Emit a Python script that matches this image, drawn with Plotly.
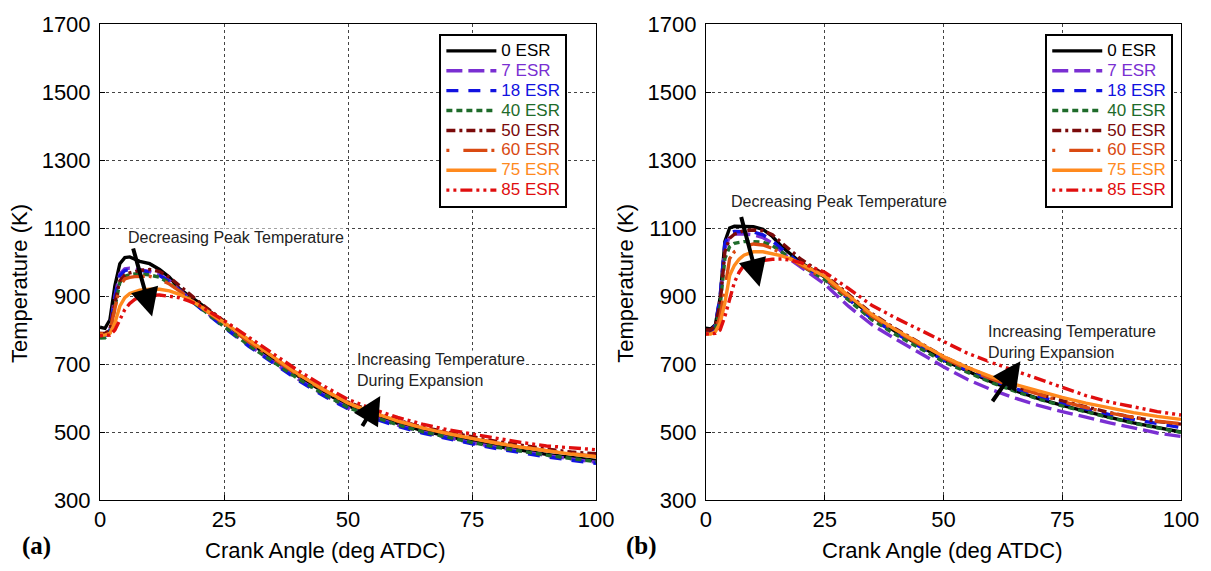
import plotly.graph_objects as go

# ---------------- data ----------------
crank_angle = [0, 1, 2, 3, 4, 5, 6, 7, 8, 10, 12, 14, 16, 18, 20, 25, 30, 35, 40, 45,
               50, 55, 60, 65, 70, 75, 80, 85, 90, 95, 100]

series_names = ["0 ESR", "7 ESR", "18 ESR", "40 ESR", "50 ESR", "60 ESR", "75 ESR", "85 ESR"]

# panel (a)
a_esr0 = [808, 805, 830, 930, 995, 1013, 1015, 1008, 1002, 995, 978, 955, 922, 900, 880, 822, 765, 713, 664, 619,
          577, 549, 525, 504, 487, 472, 458, 445, 434, 425, 416]
a_esr7 = [782, 782, 800, 900, 965, 980, 982, 980, 978, 972, 962, 945, 918, 893, 868, 810, 755, 705, 655, 610,
          571, 544, 520, 500, 483, 468, 455, 442, 431, 421, 411]
a_esr18 = [783, 783, 800, 895, 960, 975, 978, 977, 976, 970, 960, 942, 916, 891, 866, 808, 752, 702, 652, 607,
           568, 541, 517, 497, 480, 465, 451, 438, 427, 417, 408]
a_esr40 = [776, 777, 792, 870, 940, 958, 963, 965, 965, 962, 955, 938, 915, 890, 866, 810, 755, 705, 656, 612,
           572, 545, 521, 501, 484, 469, 455, 443, 432, 422, 413]
a_esr50 = [790, 790, 800, 880, 945, 962, 968, 972, 975, 978, 972, 955, 930, 905, 882, 826, 770, 720, 670, 626,
           588, 560, 535, 514, 499, 486, 472, 460, 450, 441, 436]
a_esr60 = [790, 789, 795, 860, 930, 950, 955, 957, 958, 958, 950, 935, 915, 893, 870, 818, 765, 716, 667, 624,
           584, 556, 532, 512, 496, 482, 468, 456, 445, 436, 429]
a_esr75 = [785, 785, 790, 820, 870, 895, 907, 913, 917, 920, 920, 915, 905, 890, 872, 822, 770, 720, 670, 626,
           585, 557, 533, 512, 495, 480, 467, 455, 444, 435, 427]
a_esr85 = [783, 783, 785, 800, 830, 860, 878, 890, 897, 902, 903, 900, 895, 885, 872, 828, 778, 730, 680, 636,
           596, 567, 543, 523, 507, 494, 481, 469, 459, 453, 448]

# panel (b)
b_esr0 = [805, 803, 815, 895, 1060, 1100, 1105, 1105, 1105, 1104, 1096, 1075, 1045, 1020, 998, 956, 898, 840, 795, 755,
          712, 680, 648, 622, 598, 578, 560, 543, 527, 513, 500]
b_esr7 = [790, 790, 810, 890, 1040, 1075, 1082, 1083, 1083, 1080, 1072, 1055, 1030, 1005, 985, 935, 870, 815, 773, 732,
          692, 655, 625, 600, 578, 560, 543, 527, 512, 497, 487]
b_esr18 = [795, 795, 815, 900, 1055, 1085, 1090, 1090, 1090, 1088, 1080, 1062, 1038, 1015, 993, 950, 890, 832, 790, 750,
           712, 682, 653, 628, 605, 585, 567, 551, 537, 524, 513]
b_esr40 = [790, 790, 805, 870, 1010, 1045, 1055, 1058, 1060, 1060, 1058, 1048, 1030, 1010, 990, 948, 888, 830, 786, 746,
           707, 676, 646, 620, 597, 577, 559, 542, 526, 512, 499]
b_esr50 = [800, 800, 812, 880, 1030, 1070, 1082, 1088, 1092, 1094, 1092, 1080, 1055, 1030, 1008, 962, 905, 848, 803, 762,
           722, 690, 660, 634, 612, 592, 574, 557, 543, 531, 523]
b_esr60 = [790, 790, 800, 840, 920, 1010, 1030, 1038, 1045, 1053, 1050, 1040, 1025, 1008, 990, 952, 896, 840, 797, 757,
           718, 685, 657, 632, 610, 590, 572, 556, 543, 532, 524]
b_esr75 = [788, 788, 795, 820, 880, 960, 990, 1008, 1020, 1030, 1030, 1025, 1018, 1008, 995, 958, 900, 845, 800, 760,
           722, 690, 663, 640, 620, 602, 585, 570, 557, 546, 537]
b_esr85 = [788, 788, 790, 800, 840, 890, 940, 970, 990, 1000, 1005, 1008, 1009, 1005, 998, 970, 922, 872, 835, 800,
           765, 732, 705, 680, 655, 630, 607, 588, 573, 560, 550]

x_ticks = [0, 25, 50, 75, 100]
y_ticks = [300, 500, 700, 900, 1100, 1300, 1500, 1700]

# ---------------- styles ----------------
colors = ["#000000", "#7A2FD2", "#1212E0", "#1E6B2A", "#7A0A0A", "#D94A12", "#FF8A1E", "#E00E0E"]
dashes = ["solid", "16px,6px", "12px,10px", "6px,4px", "9px,4px,3px,4px", "3px,14px,24px,4px", "solid",
          "3px,4px,3px,4px,12px,4px"]

panel_a = [a_esr0, a_esr7, a_esr18, a_esr40, a_esr50, a_esr60, a_esr75, a_esr85]
panel_b = [b_esr0, b_esr7, b_esr18, b_esr40, b_esr50, b_esr60, b_esr75, b_esr85]

fig = go.Figure()

for panel, xa, ya, leg in [(panel_a, "x", "y", "legend"), (panel_b, "x2", "y2", "legend2")]:
    for i, (name, vals) in enumerate(zip(series_names, panel)):
        fig.add_trace(go.Scatter(
            x=crank_angle, y=vals, mode="lines",
            name=f"<span style='color:{colors[i]};font-size:17px'>{name}</span>",
            line=dict(color=colors[i], width=3.4, dash=dashes[i]),
            xaxis=xa, yaxis=ya, legend=leg, legendrank=i + 1,
        ))

W, H = 1211, 571
ml, mr, mt, mb = 100, 28, 20, 71
pw = W - ml - mr
ph = H - mt - mb


def px(x):
    return (x - ml) / pw


def py(y):
    return (H - mb - y) / ph


axis_common = dict(
    showline=True, linecolor="black", linewidth=1, mirror=True,
    showgrid=True, gridcolor="#444", gridwidth=1, griddash="dot",
    ticks="inside", ticklen=5, tickcolor="black",
    zeroline=False,
    tickfont=dict(family="Liberation Sans, Arial", size=22, color="black"),
)

legend_common = dict(
    xanchor="left", yanchor="top",
    bgcolor="white", bordercolor="black", borderwidth=2,
    font=dict(family="Liberation Sans, Arial", size=13),
    itemwidth=50, tracegroupgap=0, traceorder="normal",
)

fig.update_layout(
    width=W, height=H,
    margin=dict(l=ml, r=mr, t=mt, b=mb),
    paper_bgcolor="white", plot_bgcolor="white",
    xaxis=dict(domain=[0, px(597)], range=[0, 100], tickvals=x_ticks, **axis_common),
    yaxis=dict(range=[300, 1700], tickvals=y_ticks, ticklabelstandoff=4, **axis_common),
    xaxis2=dict(domain=[px(707), 1], range=[0, 100], tickvals=x_ticks, anchor="y2", **axis_common),
    yaxis2=dict(range=[300, 1700], tickvals=y_ticks, anchor="x2", ticklabelstandoff=4, **axis_common),
    legend=dict(x=px(440), y=py(30), **legend_common),
    legend2=dict(x=px(1047), y=py(30), **legend_common),
    showlegend=True,
)

font_main = dict(family="Liberation Sans, Arial", size=22, color="black")
ann = []
# axis titles
for cx in (20, 627):
    ann.append(dict(text="Temperature (K)", x=px(cx), y=py(282), xref="paper", yref="paper",
                    xanchor="center", yanchor="middle", textangle=-90, showarrow=False, font=font_main))
for cx in (325, 944):
    ann.append(dict(text="Crank Angle (deg ATDC)", x=px(cx), y=py(551), xref="paper", yref="paper",
                    xanchor="center", yanchor="middle", showarrow=False, font=font_main))
# panel labels
for lab, cx in (("(a)", 36), ("(b)", 643)):
    ann.append(dict(text=f"<b>{lab}</b>", x=px(cx), y=py(546), xref="paper", yref="paper",
                    xanchor="center", yanchor="middle", showarrow=False,
                    font=dict(family="Liberation Serif, Times New Roman", size=25, color="black")))

note_font = dict(family="Liberation Sans, Arial", size=16, color="#222")
ann.append(dict(text="Decreasing Peak Temperature", x=5.4, y=1073, xref="x", yref="y",
                xanchor="left", yanchor="middle", showarrow=False, font=note_font, bgcolor="white",
                borderpad=0))
ann.append(dict(text="Decreasing Peak Temperature", x=5.0, y=1178, xref="x2", yref="y2",
                xanchor="left", yanchor="middle", showarrow=False, font=note_font, bgcolor="white",
                borderpad=0))
ann.append(dict(text="Increasing Temperature<br>During Expansion", x=51.7, y=681, xref="x", yref="y",
                xanchor="left", yanchor="middle", align="left", showarrow=False, font=note_font,
                bgcolor="white", borderpad=0))
ann.append(dict(text="Increasing Temperature<br>During Expansion", x=59.2, y=764, xref="x2", yref="y2",
                xanchor="left", yanchor="middle", align="left", showarrow=False, font=note_font,
                bgcolor="white", borderpad=0))

# arrows
arrow_style = dict(text="", showarrow=True, arrowhead=2, arrowwidth=4, arrowsize=1.4,
                   arrowcolor="black", standoff=0, startstandoff=0)
ann.append(dict(x=10.5, y=840, ax=6.6, ay=1044, xref="x", yref="y", axref="x", ayref="y", **arrow_style))
ann.append(dict(x=11.3, y=927, ax=7.35, ay=1137, xref="x2", yref="y2", axref="x2", ayref="y2", **arrow_style))
ann.append(dict(x=56.5, y=606, ax=52.7, ay=513, xref="x", yref="y", axref="x", ayref="y", **arrow_style))
ann.append(dict(x=66.2, y=708, ax=60.1, ay=586, xref="x2", yref="y2", axref="x2", ayref="y2", **arrow_style))

fig.update_layout(annotations=ann)

fig.write_html("out.html")
